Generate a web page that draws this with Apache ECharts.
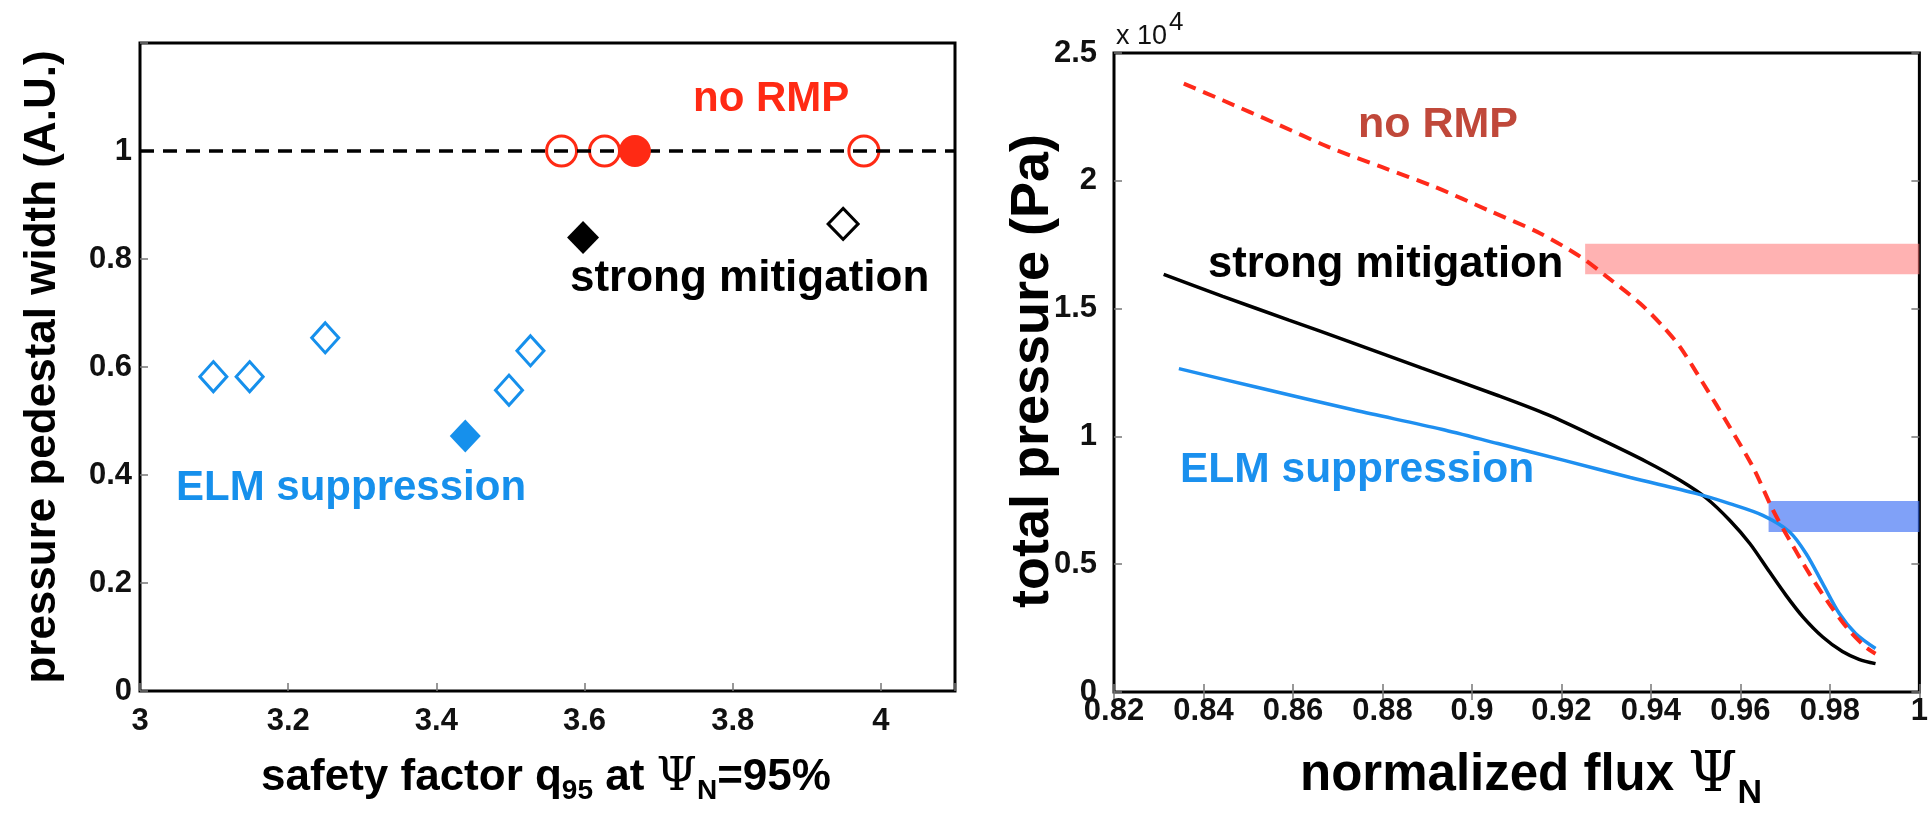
<!DOCTYPE html>
<html>
<head>
<meta charset="utf-8">
<title>Pedestal width and pressure profiles</title>
<script src="https://cdn.jsdelivr.net/npm/echarts@6/dist/echarts.min.js"></script>
<style>
  html, body { margin: 0; padding: 0; background: #fff; }
  #chart { width: 1931px; height: 817px; }
</style>
</head>
<body>
<div id="chart"></div>
<script>
// ---- left panel: pedestal width vs q95 ----
const q95NoRmpOpen = [3.569, 3.627, 3.977];
const widthNoRmpOpen = [1, 1, 1];
const q95NoRmpFilled = [3.668];
const widthNoRmpFilled = [1];
const q95MitigOpen = [3.949];
const widthMitigOpen = [0.865];
const q95MitigFilled = [3.598];
const widthMitigFilled = [0.84];
const q95SuppOpen = [3.099, 3.148, 3.25, 3.498, 3.527];
const widthSuppOpen = [0.582, 0.582, 0.654, 0.557, 0.63];
const q95SuppFilled = [3.439];
const widthSuppFilled = [0.472];
const referenceWidth = 1;

// ---- right panel: total pressure (x 10^4 Pa) vs normalized flux ----
const psiNoRmp = [0.8356, 0.8443, 0.8562, 0.868, 0.8798, 0.8917, 0.9036, 0.9154, 0.9243, 0.9302, 0.9376,
  0.9428, 0.9465, 0.9517, 0.9576, 0.9628, 0.9673, 0.971, 0.9754, 0.9798, 0.9843, 0.988, 0.9902];
const presNoRmp = [2.38, 2.315, 2.224, 2.132, 2.054, 1.976, 1.885, 1.793, 1.702, 1.624, 1.52,
  1.428, 1.35, 1.207, 1.037, 0.88, 0.711, 0.594, 0.463, 0.346, 0.241, 0.176, 0.15];
const psiMitig = [0.8311, 0.8443, 0.8591, 0.8724, 0.8887, 0.9058, 0.9169, 0.928, 0.9391, 0.9465, 0.9524,
  0.9576, 0.9621, 0.9665, 0.9702, 0.9739, 0.9784, 0.9828, 0.9865, 0.9902];
const presMitig = [1.634, 1.548, 1.455, 1.372, 1.268, 1.16, 1.085, 0.995, 0.9, 0.828, 0.758,
  0.672, 0.581, 0.47, 0.378, 0.295, 0.215, 0.158, 0.128, 0.111];
const psiSupp = [0.8345, 0.8517, 0.8739, 0.8932, 0.9058, 0.9206, 0.9354, 0.9502, 0.9576, 0.965, 0.971,
  0.9747, 0.9784, 0.9821, 0.9858, 0.9902];
const presSupp = [1.265, 1.193, 1.102, 1.028, 0.972, 0.906, 0.839, 0.776, 0.737, 0.691, 0.626,
  0.541, 0.424, 0.307, 0.228, 0.17];
// highlighted pressure bands [psiStart, psiEnd, pLow, pHigh]
const bandNoRmp = [0.9253, 1.0, 1.634, 1.754];
const bandSupp = [0.9663, 1.0, 0.626, 0.747];

const FONT = "'Liberation Sans', Arial, sans-serif";
const RED = "#ff2a14";
const BLUE = "#1690ec";

function pairs(xs, ys) {
  return xs.map((x, i) => [x, ys[i]]);
}
function tidy(v) {
  return String(parseFloat(v.toFixed(3)));
}

const tickLabel = { fontSize: 31, fontWeight: "bold", fontFamily: FONT, color: "#111" };
const innerTick = { show: true, inside: true, length: 8, lineStyle: { color: "#777", width: 1.5 } };

let option = {
  animation: false,
  backgroundColor: "#fff",
  grid: [
    { left: 140, top: 43, width: 815, height: 648, show: true, borderColor: "#000", borderWidth: 3 },
    { left: 1114, top: 53, width: 810, height: 639, show: true, borderColor: "#000", borderWidth: 3 }
  ],
  xAxis: [
    {
      gridIndex: 0, type: "value", min: 3, max: 4.1, interval: 0.2,
      axisLine: { show: false }, axisTick: innerTick, splitLine: { show: false },
      axisLabel: Object.assign({ margin: 15, formatter: v => (v > 4.05 ? "" : tidy(v)) }, tickLabel)
    },
    {
      gridIndex: 1, type: "value", min: 0.82, max: 1, interval: 0.02,
      axisLine: { show: false }, axisTick: innerTick, splitLine: { show: false },
      axisLabel: Object.assign({ margin: 4, formatter: v => tidy(v) }, tickLabel)
    },
    {
      gridIndex: 1, type: "value", position: "top", min: 0.82, max: 1, interval: 0.02,
      axisLine: { show: false }, axisTick: innerTick, splitLine: { show: false },
      axisLabel: { show: false }
    }
  ],
  yAxis: [
    {
      gridIndex: 0, type: "value", min: 0, max: 1.2, interval: 0.2,
      axisLine: { show: false }, axisTick: innerTick, splitLine: { show: false },
      axisLabel: Object.assign({ margin: 8, formatter: v => (v > 1.05 ? "" : tidy(v)) }, tickLabel)
    },
    {
      gridIndex: 1, type: "value", min: 0, max: 2.5, interval: 0.5,
      axisLine: { show: false }, axisTick: innerTick, splitLine: { show: false },
      axisLabel: Object.assign({ margin: 17, formatter: v => tidy(v) }, tickLabel)
    },
    {
      gridIndex: 1, type: "value", position: "right", min: 0, max: 2.5, interval: 0.5,
      axisLine: { show: false }, axisTick: innerTick, splitLine: { show: false },
      axisLabel: { show: false }
    }
  ],
  series: [
    // left panel
    {
      type: "scatter", xAxisIndex: 0, yAxisIndex: 0, z: 3,
      data: pairs(q95NoRmpOpen, widthNoRmpOpen),
      symbol: "circle", symbolSize: 30,
      itemStyle: { color: "rgba(0,0,0,0)", borderColor: RED, borderWidth: 3, opacity: 1 },
      markLine: {
        silent: true, symbol: "none", label: { show: false },
        lineStyle: { color: "#000", width: 3.5, type: [14, 9] },
        data: [{ yAxis: referenceWidth }]
      }
    },
    {
      type: "scatter", xAxisIndex: 0, yAxisIndex: 0, z: 5,
      data: pairs(q95NoRmpFilled, widthNoRmpFilled),
      symbol: "circle", symbolSize: 32, itemStyle: { color: RED, opacity: 1 }
    },
    {
      type: "scatter", xAxisIndex: 0, yAxisIndex: 0, z: 5,
      data: pairs(q95MitigFilled, widthMitigFilled),
      symbol: "diamond", symbolSize: [32, 33], itemStyle: { color: "#000", opacity: 1 }
    },
    {
      type: "scatter", xAxisIndex: 0, yAxisIndex: 0, z: 5,
      data: pairs(q95MitigOpen, widthMitigOpen),
      symbol: "diamond", symbolSize: [30, 31],
      itemStyle: { color: "rgba(0,0,0,0)", borderColor: "#000", borderWidth: 3, opacity: 1 }
    },
    {
      type: "scatter", xAxisIndex: 0, yAxisIndex: 0, z: 5,
      data: pairs(q95SuppOpen, widthSuppOpen),
      symbol: "diamond", symbolSize: [27, 30],
      itemStyle: { color: "rgba(0,0,0,0)", borderColor: BLUE, borderWidth: 3, opacity: 1 }
    },
    {
      type: "scatter", xAxisIndex: 0, yAxisIndex: 0, z: 5,
      data: pairs(q95SuppFilled, widthSuppFilled),
      symbol: "diamond", symbolSize: [31, 33], itemStyle: { color: BLUE, opacity: 1 }
    },
    // right panel
    {
      type: "line", xAxisIndex: 1, yAxisIndex: 1, data: pairs(psiMitig, presMitig),
      showSymbol: false, smooth: 0.3, lineStyle: { color: "#000", width: 3.5 }
    },
    {
      type: "line", xAxisIndex: 1, yAxisIndex: 1, data: pairs(psiSupp, presSupp),
      showSymbol: false, smooth: 0.3, lineStyle: { color: "#1e8ff0", width: 3.5 }
    },
    {
      type: "line", xAxisIndex: 1, yAxisIndex: 1, data: pairs(psiNoRmp, presNoRmp),
      showSymbol: false, smooth: 0.3, lineStyle: { color: "#ff2a1a", width: 4, type: [13, 8] }
    },
    {
      type: "line", xAxisIndex: 1, yAxisIndex: 1, data: [], z: 10,
      markArea: {
        silent: true,
        data: [
          [{ xAxis: bandNoRmp[0], yAxis: bandNoRmp[2], itemStyle: { color: "rgba(255,120,120,0.57)" } },
           { xAxis: bandNoRmp[1], yAxis: bandNoRmp[3] }],
          [{ xAxis: bandSupp[0], yAxis: bandSupp[2], itemStyle: { color: "rgba(60,110,245,0.65)" } },
           { xAxis: bandSupp[1], yAxis: bandSupp[3] }]
        ]
      }
    }
  ],
  graphic: {
    elements: [
      // left annotations
      { type: "text", x: 693, y: 99, style: { text: "no RMP", fill: RED, font: "bold 42px " + FONT, verticalAlign: "middle", textVerticalAlign: "middle" } },
      { type: "text", x: 570, y: 279, style: { text: "strong mitigation", fill: "#000", font: "bold 44px " + FONT, verticalAlign: "middle", textVerticalAlign: "middle" } },
      { type: "text", x: 176, y: 488, style: { text: "ELM suppression", fill: BLUE, font: "bold 42px " + FONT, verticalAlign: "middle", textVerticalAlign: "middle" } },
      // right annotations
      { type: "text", x: 1358, y: 125, style: { text: "no RMP", fill: "#c0483a", font: "bold 43px " + FONT, verticalAlign: "middle", textVerticalAlign: "middle" } },
      { type: "text", x: 1208, y: 265, style: { text: "strong mitigation", fill: "#000", font: "bold 43.5px " + FONT, verticalAlign: "middle", textVerticalAlign: "middle" } },
      { type: "text", x: 1180, y: 470, style: { text: "ELM suppression", fill: "#1a90ee", font: "bold 42.5px " + FONT, verticalAlign: "middle", textVerticalAlign: "middle" } },
      // axis titles
      {
        type: "text", x: 43, y: 367, rotation: Math.PI / 2,
        style: { text: "pressure pedestal width (A.U.)", fill: "#000", font: "bold 44px " + FONT,
          align: "center", textAlign: "center", verticalAlign: "middle", textVerticalAlign: "middle" }
      },
      {
        type: "text", x: 1033, y: 371, rotation: Math.PI / 2,
        style: { text: "total pressure (Pa)", fill: "#000", font: "bold 54px " + FONT,
          align: "center", textAlign: "center", verticalAlign: "middle", textVerticalAlign: "middle" }
      },
      {
        type: "text", x: 546, y: 778,
        style: {
          text: "{t|safety factor q}{s|95}{t| at }{p|Ψ}{s|N}{t|=95%}",
          align: "center", textAlign: "center", verticalAlign: "middle", textVerticalAlign: "middle",
          rich: {
            t: { fontSize: 44, fontWeight: "bold", fontFamily: FONT, fill: "#000" },
            s: { fontSize: 28, fontWeight: "bold", fontFamily: FONT, fill: "#000", padding: [26, 0, 0, 0] },
            p: { fontSize: 46, fontWeight: "normal", fontFamily: "'DejaVu Serif', 'Liberation Serif', serif", fill: "#000" }
          }
        }
      },
      {
        type: "text", x: 1531, y: 776,
        style: {
          text: "{t|normalized flux }{p|Ψ}{s|N}",
          align: "center", textAlign: "center", verticalAlign: "middle", textVerticalAlign: "middle",
          rich: {
            t: { fontSize: 51, fontWeight: "bold", fontFamily: FONT, fill: "#000" },
            s: { fontSize: 34, fontWeight: "bold", fontFamily: FONT, fill: "#000", padding: [36, 0, 0, 0] },
            p: { fontSize: 56, fontWeight: "normal", fontFamily: "'DejaVu Serif', 'Liberation Serif', serif", fill: "#000" }
          }
        }
      },
      {
        type: "text", x: 1116, y: 37,
        style: {
          text: "{a|x 10}{b|4}", verticalAlign: "middle", textVerticalAlign: "middle",
          rich: {
            a: { fontSize: 27, fontFamily: FONT, fill: "#111" },
            b: { fontSize: 26, fontFamily: FONT, fill: "#111", padding: [0, 0, 28, 2] }
          }
        }
      }
    ]
  }
};

let myChart = echarts.init(document.getElementById("chart"));
myChart.setOption(option);
</script>
</body>
</html>
